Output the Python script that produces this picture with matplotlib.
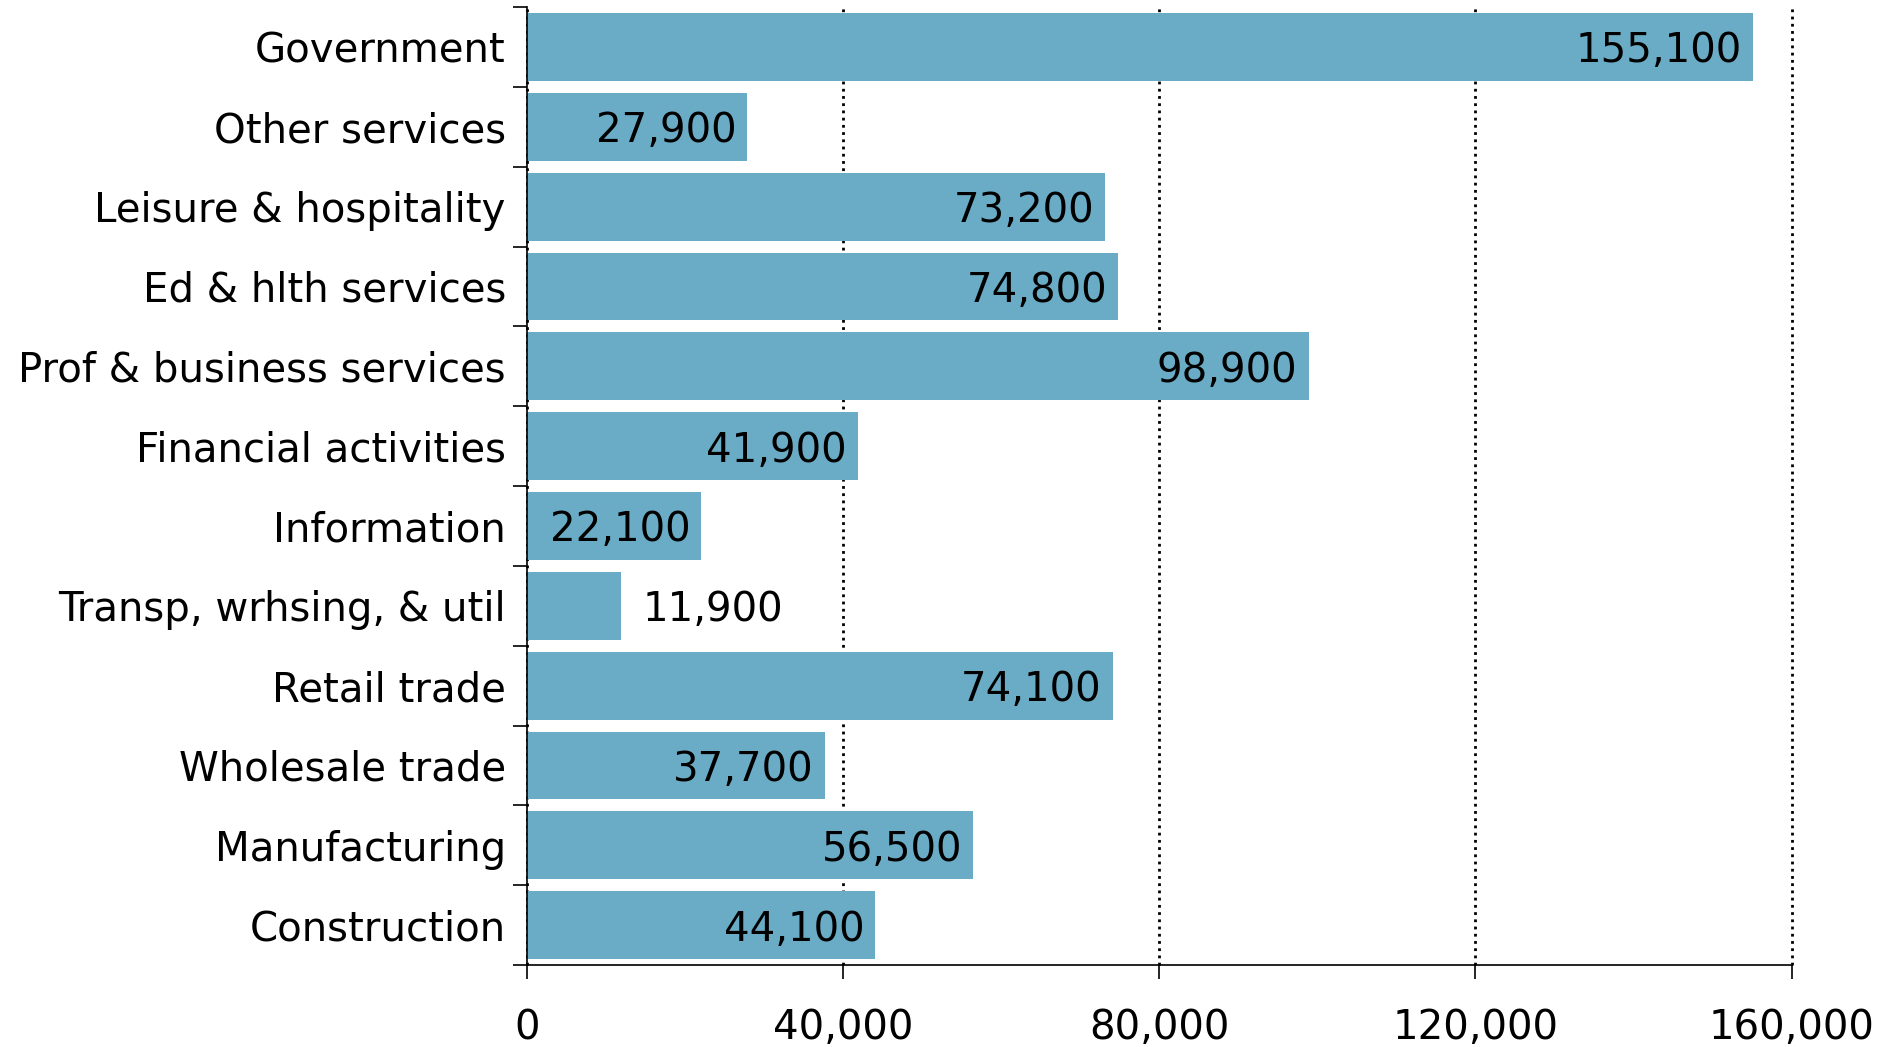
import matplotlib.pyplot as plt
import numpy as np

categories = ['Government', 'Other services', 'Leisure & hospitality', 'Ed & hlth services',
              'Prof & business services', 'Financial activities', 'Information',
              'Transp, wrhsing, & util', 'Retail trade', 'Wholesale trade',
              'Manufacturing', 'Construction']
values = [155100, 27900, 73200, 74800, 98900, 41900, 22100, 11900, 74100, 37700, 56500, 44100]
xticks = [0, 40000, 80000, 120000, 160000]

plt.rcParams['font.family'] = ['DejaVu Sans']

fig = plt.figure(figsize=(18.88, 10.47), dpi=100)
ax = fig.add_axes([0.279, 0.0783, 0.670, 0.915])

# bottom category first so it sits at y=0
cats = categories[::-1]
vals = values[::-1]
y = np.arange(len(cats))

ax.barh(y, vals, height=0.85, color='#6aacc6', zorder=2)

for yi, v in zip(y, vals):
    if v < 20000:
        ax.annotate(f'{v:,}', (v, yi), xytext=(16, 0), textcoords='offset points',
                    ha='left', va='center_baseline', fontsize=29, zorder=3)
    else:
        ax.annotate(f'{v:,}', (v, yi), xytext=(-8, 0), textcoords='offset points',
                    ha='right', va='center_baseline', fontsize=29, zorder=3)

ax.set_xlim(0, 160000)
ax.set_ylim(-0.5, len(cats) - 0.5)

ax.set_xticks(xticks)
ax.set_xticklabels([f'{t:,}' for t in xticks], fontsize=29)
ax.tick_params(axis='x', direction='out', length=10, width=1.2, pad=21)

# ticks between categories, labels at the centres
ax.set_yticks(np.arange(len(cats) + 1) - 0.5)
ax.set_yticklabels([])
ax.set_yticks(y, minor=True)
ax.set_yticklabels(cats, minor=True, fontsize=29)
ax.tick_params(axis='y', which='major', direction='out', length=10, width=1.2)
ax.tick_params(axis='y', which='minor', length=0, pad=15)

ax.grid(axis='x', color='black', linestyle=(0, (1, 1.6)), linewidth=2.0, zorder=1)
for gl in ax.get_xgridlines():
    gl.set_clip_on(False)
for s in ['top', 'right']:
    ax.spines[s].set_visible(False)
for s in ['left', 'bottom']:
    ax.spines[s].set_linewidth(1.2)
    ax.spines[s].set_zorder(4)

fig.savefig('out.png', dpi=100)
